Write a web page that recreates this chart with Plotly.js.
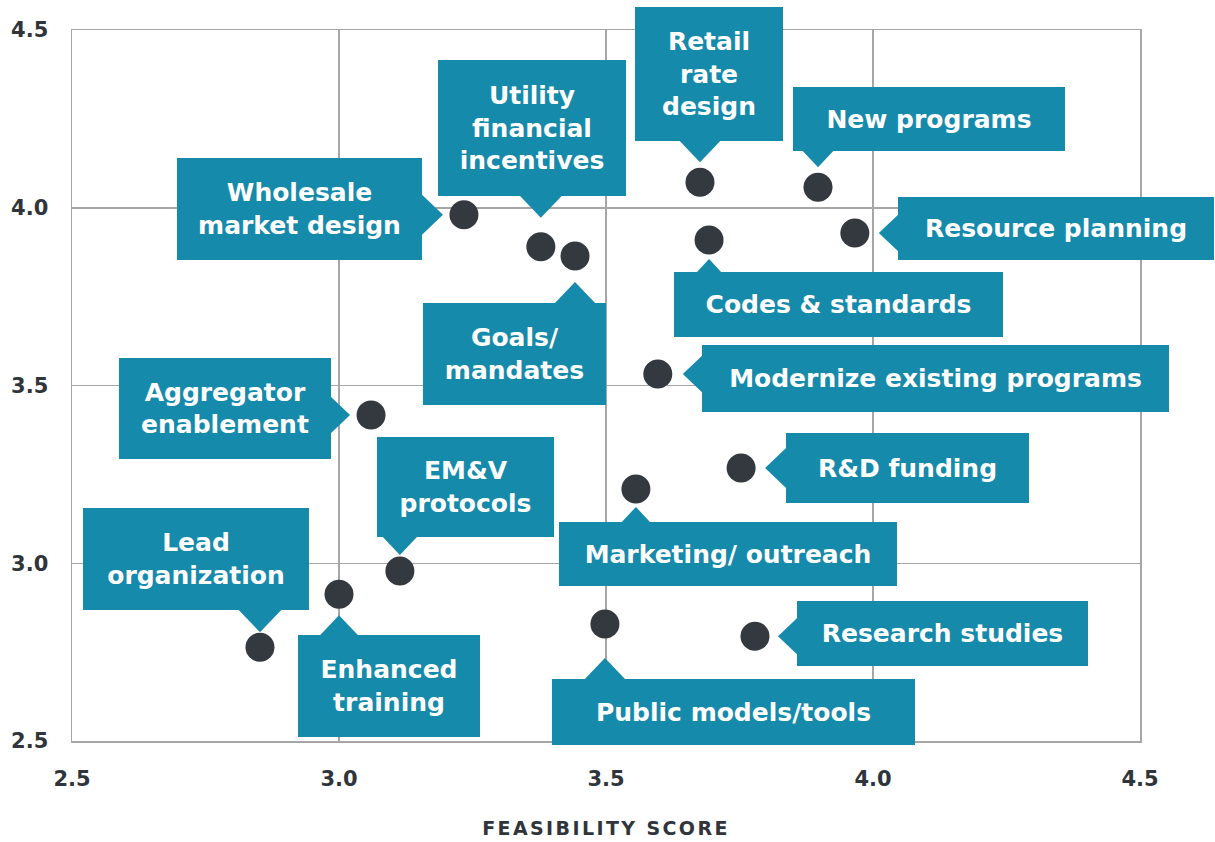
<!DOCTYPE html>
<html>
<head>
<meta charset="utf-8">
<script src="https://cdn.plot.ly/plotly-3.0.1.min.js"></script>
<style>
  html, body { margin: 0; padding: 0; background: #ffffff; }
  #chart { width: 1215px; height: 842px; }
  .xtitle { letter-spacing: 2.4px; }
</style>
</head>
<body>
<div id="chart"></div>
<script>
// ---- Data ----
const labels = [
  'Wholesale<br>market design',
  'Utility<br>financial<br>incentives',
  'Goals/<br>mandates',
  'Retail<br>rate<br>design',
  'New programs',
  'Codes & standards',
  'Resource planning',
  'Modernize existing programs',
  'Aggregator<br>enablement',
  'R&D funding',
  'Marketing/ outreach',
  'EM&V<br>protocols',
  'Enhanced<br>training',
  'Lead<br>organization',
  'Public models/tools',
  'Research studies'
];
const feasibilityScore = [3.234, 3.378, 3.442, 3.676, 3.897, 3.693, 3.966, 3.597, 3.060, 3.753, 3.556, 3.114, 3.000, 2.852, 3.498, 3.779];
const secondScore      = [3.980, 3.890, 3.864, 4.072, 4.058, 3.909, 3.929, 3.532, 3.417, 3.268, 3.209, 2.978, 2.913, 2.764, 2.829, 2.795];
const tickValues = [2.5, 3.0, 3.5, 4.0, 4.5];
const tickLabels = ['2.5', '3.0', '3.5', '4.0', '4.5'];
const xTitle = 'FEASIBILITY SCORE';

// ---- Callout styling (pixel offsets of each label box from its point) ----
// [box center dx, box center dy (screen, down positive), box width, box height, pointer side, tip gap]
const calloutGeom = [
  [-164.5,  -6,   245, 102, 'right',  21],
  [  -9,  -119,   188, 136, 'bottom', 29],
  [ -60.5,  98,   183, 102, 'top',    26],
  [   9,  -108,   148, 134, 'bottom', 20],
  [ 111,   -68,   272,  64, 'bottom', 20],
  [ 129.5,  64.5, 329,  65, 'top',    19],
  [ 201,    -4.5, 316,  63, 'left',   24],
  [ 277.5,   4.5, 467,  67, 'left',   25],
  [-146,    -6.5, 212, 101, 'right',  21],
  [ 166.5,   0,   243,  70, 'left',   24],
  [  92,    65,   338,  64, 'top',    18],
  [  65.5, -84,   177, 100, 'bottom', 16],
  [  50,    92,   182, 102, 'top',    21],
  [ -64,   -88,   226, 102, 'bottom', 15],
  [ 128.5,  88,   363,  66, 'top',    34],
  [ 187.5,  -2.5, 291,  65, 'left',   23]
];

const TEAL = '#168aab';
const DOT = '#33393f';
const GRID = '#a6a6a6';
const TEXT_DARK = '#2f353b';
const FONT = '"DejaVu Sans", Verdana, sans-serif';

const annotations = [];
const shapes = [];
for (let i = 0; i < labels.length; i++) {
  const [dx, dy, w, h, side, gap] = calloutGeom[i];
  annotations.push({
    x: feasibilityScore[i], y: secondScore[i], xref: 'x', yref: 'y',
    text: labels[i], showarrow: false,
    xanchor: 'center', yanchor: 'middle',
    xshift: dx, yshift: -dy,
    width: w, height: h, align: 'center', valign: 'middle',
    bgcolor: TEAL, borderpad: 0, borderwidth: 0,
    font: { family: FONT, size: 25, color: '#ffffff', weight: 700 }
  });
  // triangle pointer, screen coords relative to point (y down)
  let pts;
  if (side === 'right') {
    const edge = dx + w / 2; const tip = -gap; const half = tip - edge;
    pts = [[edge - 1, -half], [tip, 0], [edge - 1, half]];
  } else if (side === 'left') {
    const edge = dx - w / 2; const tip = gap; const half = edge - tip;
    pts = [[edge + 1, -half], [tip, 0], [edge + 1, half]];
  } else if (side === 'bottom') {
    const edge = dy + h / 2; const tip = -gap; const half = tip - edge;
    pts = [[-half, edge - 1], [0, tip], [half, edge - 1]];
  } else {
    const edge = dy - h / 2; const tip = gap; const half = edge - tip;
    pts = [[-half, edge + 1], [0, tip], [half, edge + 1]];
  }
  const path = 'M' + pts.map(p => p[0] + ',' + (-p[1])).join(' L') + ' Z';
  shapes.push({
    type: 'path', xref: 'x', yref: 'y',
    xsizemode: 'pixel', ysizemode: 'pixel',
    xanchor: feasibilityScore[i], yanchor: secondScore[i],
    path: path, fillcolor: TEAL, line: { width: 0 }, layer: 'above'
  });
}

const trace = {
  type: 'scatter', mode: 'markers',
  x: feasibilityScore, y: secondScore,
  text: labels.map(s => s.replace(/<br>/g, ' ')),
  hoverinfo: 'text',
  marker: { size: 29, color: DOT, line: { width: 0 } },
  cliponaxis: false
};

const axisCommon = {
  range: [2.5, 4.5],
  tickvals: tickValues, ticktext: tickLabels,
  showgrid: true, gridcolor: GRID, gridwidth: 1.5,
  zeroline: false, showline: true, mirror: true,
  linecolor: GRID, linewidth: 1.5,
  ticks: '', ticklabelstandoff: 18,
  tickfont: { family: FONT, size: 21, color: TEXT_DARK, weight: 700 },
  fixedrange: true
};

const layout = {
  width: 1215, height: 842,
  margin: { l: 72, r: 75, t: 30, b: 101 },
  paper_bgcolor: '#ffffff', plot_bgcolor: '#ffffff',
  showlegend: false,
  xaxis: Object.assign({}, axisCommon, {
    title: { text: xTitle, standoff: 32, font: { family: FONT, size: 19, color: TEXT_DARK, weight: 700 } },
    automargin: false
  }),
  yaxis: Object.assign({}, axisCommon, { automargin: false }),
  annotations: annotations,
  shapes: shapes
};

Plotly.newPlot('chart', [trace], layout, { displayModeBar: false, staticPlot: true });
</script>
</body>
</html>
